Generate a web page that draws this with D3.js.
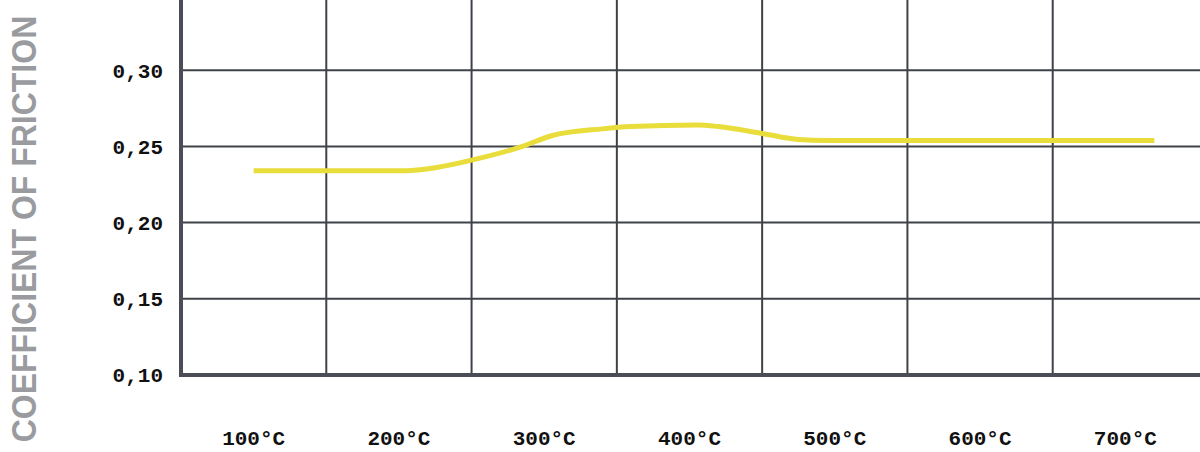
<!DOCTYPE html>
<html>
<head>
<meta charset="utf-8">
<script src="https://cdn.jsdelivr.net/npm/d3@7"></script>
<style>
  html, body { margin: 0; padding: 0; background: #ffffff; }
  svg { display: block; }
</style>
</head>
<body>
<svg id="chart" width="1200" height="452"></svg>
<script>
// ---- data ----
const categories = ["100°C", "200°C", "300°C", "400°C", "500°C", "600°C", "700°C"];
const categoryTemps = [100, 200, 300, 400, 500, 600, 700];
const yTicks = [0.10, 0.15, 0.20, 0.25, 0.30];
const yTickLabels = ["0,10", "0,15", "0,20", "0,25", "0,30"];
const gridTemps = [150, 250, 350, 450, 550, 650];
const seriesTemps = [100, 205, 225, 250, 285, 305, 340, 360, 405, 420, 450, 475, 495, 720];
const seriesValues = [0.234, 0.234, 0.236, 0.241, 0.250, 0.257, 0.2615, 0.263, 0.264, 0.263, 0.2585, 0.2545, 0.2538, 0.2538];
const yTitle = "COEFFICIENT OF FRICTION";

// ---- layout ----
const svg = d3.select("#chart");
const left = 181, right = 1198, bottom = 375;

const x = d3.scaleLinear().domain([50, 750]).range([left, right]);
const y = d3.scaleLinear().domain([0.10, 0.35]).range([bottom, bottom - 5 * 76.2]);

const gridColor = "#3f4248";
const axisColor = "#4a4d55";

// horizontal gridlines
svg.append("g").selectAll("line")
  .data(yTicks.filter(d => d > 0.10))
  .join("line")
  .attr("x1", left).attr("x2", 1200)
  .attr("y1", d => y(d)).attr("y2", d => y(d))
  .attr("stroke", gridColor).attr("stroke-width", 2);

// vertical gridlines
svg.append("g").selectAll("line")
  .data(gridTemps)
  .join("line")
  .attr("x1", d => x(d)).attr("x2", d => x(d))
  .attr("y1", 0).attr("y2", bottom)
  .attr("stroke", gridColor).attr("stroke-width", 2);

// axis lines
svg.append("line")
  .attr("x1", left).attr("x2", left)
  .attr("y1", 0).attr("y2", bottom + 2)
  .attr("stroke", axisColor).attr("stroke-width", 4);
svg.append("line")
  .attr("x1", left - 2).attr("x2", 1200)
  .attr("y1", bottom).attr("y2", bottom)
  .attr("stroke", axisColor).attr("stroke-width", 4);

const monoFont = "'Liberation Mono', 'DejaVu Sans Mono', monospace";

// y tick labels
svg.append("g").selectAll("text")
  .data(yTicks)
  .join("text")
  .attr("x", 163)
  .attr("y", d => y(d))
  .attr("dy", "0.35em")
  .attr("text-anchor", "end")
  .attr("font-family", monoFont)
  .attr("font-weight", "bold")
  .attr("font-size", 21)
  .attr("fill", "#111")
  .text((d, i) => yTickLabels[i]);

// x labels
svg.append("g").selectAll("text")
  .data(categories)
  .join("text")
  .attr("x", (d, i) => x(categoryTemps[i]))
  .attr("y", 438)
  .attr("dy", "0.35em")
  .attr("text-anchor", "middle")
  .attr("font-family", monoFont)
  .attr("font-weight", "bold")
  .attr("font-size", 21)
  .attr("fill", "#111")
  .text(d => d);

// y title
svg.append("text")
  .attr("transform", "translate(36,229) rotate(-90) scale(1,1.1)")
  .attr("text-anchor", "middle")
  .attr("font-family", "'Liberation Sans', Arial, sans-serif")
  .attr("font-weight", "bold")
  .attr("font-size", 32)
  .attr("fill", "#9a9b9f")
  .text(yTitle);

// line
const line = d3.line()
  .x((d, i) => x(seriesTemps[i]))
  .y(d => y(d))
  .curve(d3.curveMonotoneX);

svg.append("path")
  .datum(seriesValues)
  .attr("d", line)
  .attr("fill", "none")
  .attr("stroke", "#e8dd3a")
  .attr("stroke-width", 5);
</script>
</body>
</html>
